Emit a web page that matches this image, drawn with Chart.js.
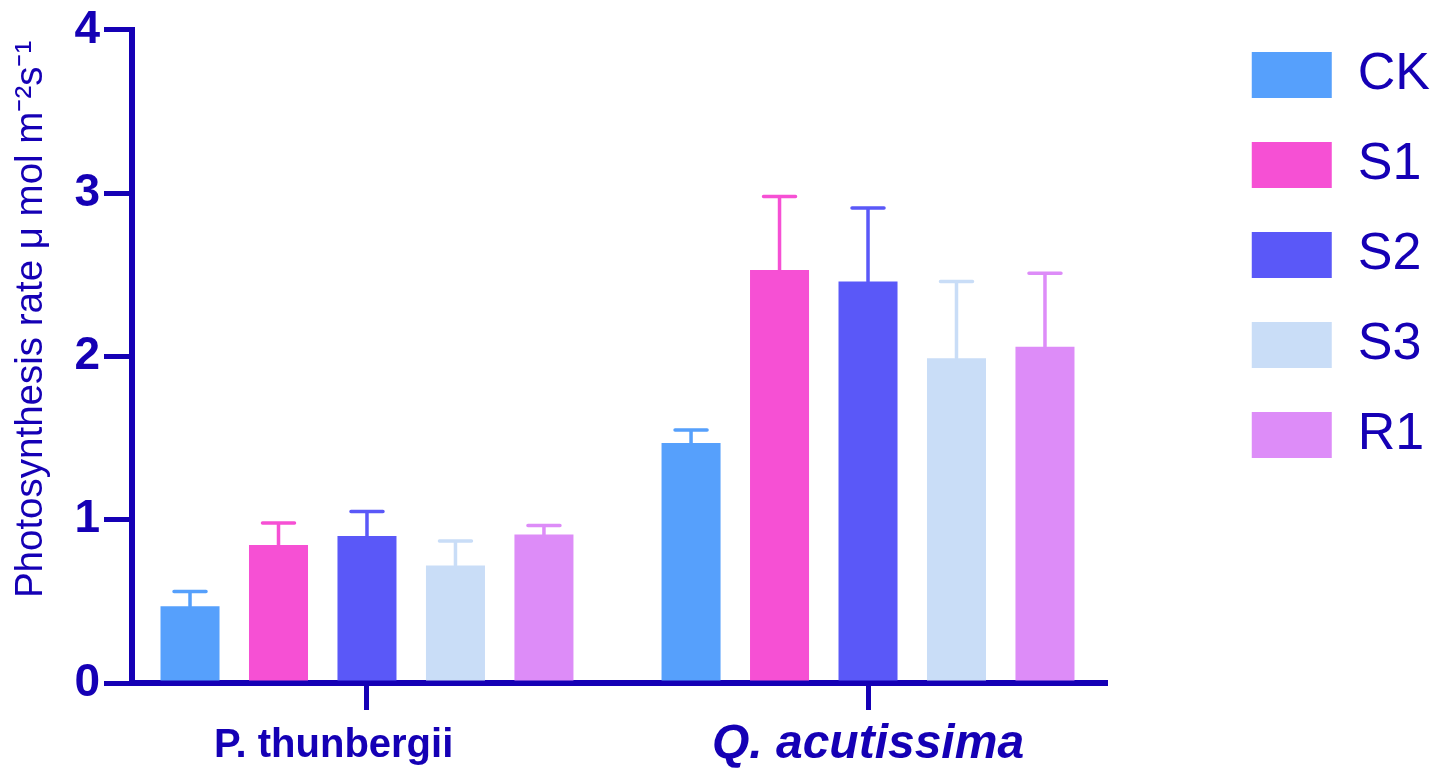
<!DOCTYPE html>
<html lang="en">
<head>
<meta charset="utf-8">
<title>Photosynthesis rate</title>
<script src="https://cdn.jsdelivr.net/npm/chart.js@4.4.1/dist/chart.umd.min.js"></script>
<style>
    html, body { margin: 0; padding: 0; background: #fff; }
    .chart-wrap { position: relative; width: 1440px; height: 769px; }
</style>
</head>
<body>
<div class="chart-wrap"><canvas id="rateChart"></canvas></div>
<script>
// --- data ---
const species = ['P. thunbergii', 'Q. acutissima'];
const treatments = ['CK', 'S1', 'S2', 'S3', 'R1'];
const ckMean = [0.47, 1.47];
const ckErr  = [0.09, 0.08];
const s1Mean = [0.845, 2.53];
const s1Err  = [0.135, 0.45];
const s2Mean = [0.90, 2.46];
const s2Err  = [0.15, 0.45];
const s3Mean = [0.72, 1.99];
const s3Err  = [0.15, 0.47];
const r1Mean = [0.91, 2.06];
const r1Err  = [0.055, 0.45];
const yTicks = [0, 1, 2, 3, 4];

const means  = [ckMean, s1Mean, s2Mean, s3Mean, r1Mean];
const errors = [ckErr, s1Err, s2Err, s3Err, r1Err];
const colors = ['#56a0fc', '#f650d4', '#5a58f8', '#c9ddf7', '#dd8cf8'];
const ink = '#1500b5';

document.addEventListener('DOMContentLoaded', () => {

    // --- 1. upper error bars (mean + sd) ---
    const errorBars = {
        id: 'errorBars',
        afterDatasetsDraw(chart) {
            const { ctx } = chart;
            const y = chart.scales.y;
            ctx.save();
            ctx.lineWidth = 3.5;
            ctx.lineCap = 'round';
            chart.data.datasets.forEach((ds, i) => {
                const meta = chart.getDatasetMeta(i);
                if (meta.hidden) return;
                meta.data.forEach((bar, j) => {
                    const top = y.getPixelForValue(ds.data[j].y + ds.errors[j]);
                    ctx.strokeStyle = ds.backgroundColor;
                    ctx.beginPath();
                    ctx.moveTo(bar.x, bar.y);
                    ctx.lineTo(bar.x, top);
                    ctx.moveTo(bar.x - 16, top);
                    ctx.lineTo(bar.x + 16, top);
                    ctx.stroke();
                });
            });
            ctx.restore();
        }
    };

    // --- 2. chart ---
    new Chart(document.getElementById('rateChart'), {
        type: 'bar',
        data: {
            datasets: treatments.map((name, i) => ({
                label: name,
                data: species.map((_, j) => ({ x: j, y: means[i][j] })),
                errors: errors[i],
                backgroundColor: colors[i],
                categoryPercentage: 0.883,
                barPercentage: 0.667
            }))
        },
        options: {
            responsive: true,
            maintainAspectRatio: false,
            animation: false,
            layout: { padding: { top: 11, left: 0, right: 0, bottom: 0 } },
            plugins: {
                legend: {
                    position: 'right',
                    align: 'start',
                    labels: {
                        boxWidth: 80,
                        boxHeight: 46,
                        padding: 38,
                        color: ink,
                        font: { family: 'Liberation Sans', size: 52 }
                    }
                },
                tooltip: { enabled: false }
            },
            scales: {
                x: {
                    type: 'linear',
                    bounds: 'data',
                    offset: false,
                    min: -0.469,
                    max: 1.473,
                    afterBuildTicks: (scale) => { scale.ticks = species.map((_, j) => ({ value: j })); },
                    afterFit: (scale) => { scale.height = 86; },
                    border: { color: ink, width: 6 },
                    grid: { offset: false, drawOnChartArea: false, color: ink, lineWidth: 5, tickLength: 27 },
                    ticks: {
                        padding: 6,
                        color: ink,
                        // first label sits a bit left of its tick in the original
                        callback: (v) => v === 0 ? species[0] + '      ' : species[v],
                        font: (c) => c.index === 1
                            ? { family: 'Liberation Sans', size: 48, weight: 'bold', style: 'italic' }
                            : { family: 'Liberation Sans', size: 40, weight: 'bold', lineHeight: 1.5 }
                    }
                },
                y: {
                    min: 0,
                    max: 4,
                    afterBuildTicks: (scale) => { scale.ticks = yTicks.map(v => ({ value: v })); },
                    afterFit: (scale) => { scale.width = 132; },
                    border: { color: ink, width: 6 },
                    grid: { drawOnChartArea: false, color: ink, lineWidth: 5, tickLength: 28 },
                    ticks: {
                        padding: 4,
                        color: ink,
                        font: { family: 'Liberation Sans', size: 46, weight: 'bold', lineHeight: 1.13 }
                    },
                    title: {
                        display: true,
                        align: 'end',
                        text: 'Photosynthesis rate \u03bc mol m\u207b\u00b2s\u207b\u00b9 ',
                        color: ink,
                        padding: { top: 8, bottom: 0 },
                        font: { family: 'Liberation Sans', size: 38.5 }
                    }
                },
                // empty spacer so the plot ends where the original x axis ends
                y2: {
                    type: 'linear',
                    position: 'right',
                    afterFit: (scale) => { scale.width = scale.chart.width - 1105 - scale.chart.legend.width; },
                    border: { display: false },
                    grid: { display: false },
                    ticks: { display: false }
                }
            }
        },
        plugins: [errorBars]
    });

});
</script>
</body>
</html>
